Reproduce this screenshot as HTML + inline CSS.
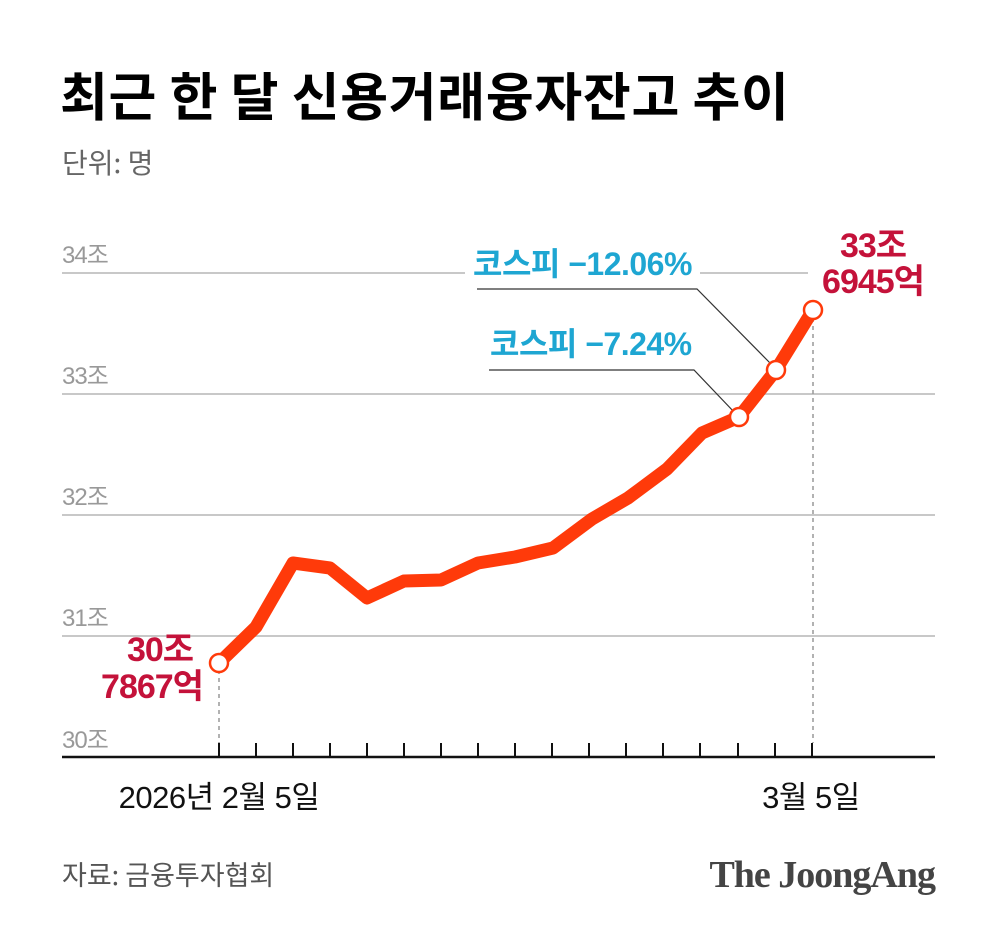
<!DOCTYPE html>
<html><head><meta charset="utf-8"><style>
body{margin:0;background:#fff;}
svg text{font-family:"Liberation Sans","Noto Sans CJK KR",sans-serif;}
</style></head><body>
<svg width="1000" height="934" viewBox="0 0 1000 934" xmlns="http://www.w3.org/2000/svg">
<rect width="1000" height="934" fill="#fff"/>
<text x="60" y="116" font-size="52" font-weight="bold" fill="#000" letter-spacing="0.7" style="font-family:'Noto Sans CJK KR',sans-serif">최근 한 달 신용거래융자잔고 추이</text>
<text x="62" y="173" font-size="28" fill="#666" style="font-family:'Noto Sans CJK KR',sans-serif">단위: 명</text>
<g stroke="#c8c8c8" stroke-width="2">
<line x1="62" y1="273" x2="465" y2="273"/><line x1="700" y1="273" x2="808" y2="273"/>
<line x1="62" y1="394" x2="935" y2="394"/>
<line x1="62" y1="515" x2="935" y2="515"/>
<line x1="62" y1="636" x2="935" y2="636"/>
</g>
<g font-size="24" fill="#999" letter-spacing="-1">
<text x="62" y="263">34조</text>
<text x="62" y="384">33조</text>
<text x="62" y="505">32조</text>
<text x="62" y="626">31조</text>
<text x="62" y="748">30조</text>
</g>
<line x1="62" y1="757" x2="935" y2="757" stroke="#111" stroke-width="2.5"/>
<g stroke="#111" stroke-width="2">
<line x1="219" y1="743" x2="219" y2="757"/><line x1="256" y1="743" x2="256" y2="757"/><line x1="293" y1="743" x2="293" y2="757"/><line x1="330" y1="743" x2="330" y2="757"/><line x1="367" y1="743" x2="367" y2="757"/><line x1="404" y1="743" x2="404" y2="757"/><line x1="441" y1="743" x2="441" y2="757"/><line x1="478" y1="743" x2="478" y2="757"/><line x1="515" y1="743" x2="515" y2="757"/><line x1="552" y1="743" x2="552" y2="757"/><line x1="589" y1="743" x2="589" y2="757"/><line x1="626" y1="743" x2="626" y2="757"/><line x1="663" y1="743" x2="663" y2="757"/><line x1="700" y1="743" x2="700" y2="757"/><line x1="738" y1="743" x2="738" y2="757"/><line x1="775" y1="743" x2="775" y2="757"/><line x1="812" y1="743" x2="812" y2="757"/>
</g>
<g stroke="#999" stroke-width="1.5" stroke-dasharray="4,4">
<line x1="219" y1="670" x2="219" y2="743"/>
<line x1="813" y1="318" x2="813" y2="743"/>
</g>
<g stroke="#333" stroke-width="1.2" fill="none">
<polyline points="477,289 697,289 772,365"/>
<polyline points="489,370 694,370 735,413"/>
</g>
<polyline fill="none" stroke="#ff3a0a" stroke-width="13" stroke-linejoin="round" points="219,663 256,627 293,563 330,568 367,598 404,581 441,580 478,563 515,557 553,548 592,519 628,498 667,469 702,433 739,417 776,370 813,310"/>
<g fill="#fff" stroke="#ff3a0a" stroke-width="2.5">
<circle cx="219" cy="663" r="9"/><circle cx="739" cy="417" r="9"/><circle cx="776" cy="370" r="9"/><circle cx="813" cy="310" r="9"/>
</g>
<g font-size="32" font-weight="bold" fill="#1ea6d2" letter-spacing="-0.5">
<text x="473" y="275">코스피 −12.06%</text>
<text x="490" y="355">코스피 −7.24%</text>
</g>
<g font-size="34" font-weight="bold" fill="#c4123a" text-anchor="middle" letter-spacing="-1">
<text x="873" y="257">33조</text>
<text x="873" y="293">6945억</text>
<text x="160" y="661">30조</text>
<text x="152" y="698">7867억</text>
</g>
<g font-size="31" fill="#111" text-anchor="middle" letter-spacing="-0.5">
<text x="219" y="808">2026년 2월 5일</text>
<text x="811" y="808">3월 5일</text>
</g>
<text x="62" y="885" font-size="27" fill="#555" style="font-family:'Noto Sans CJK KR',sans-serif">자료: 금융투자협회</text>
<text x="935" y="887" font-size="38" font-weight="bold" fill="#444" text-anchor="end" letter-spacing="-1" style="font-family:'Liberation Serif',serif">The JoongAng</text>
</svg>
</body></html>
